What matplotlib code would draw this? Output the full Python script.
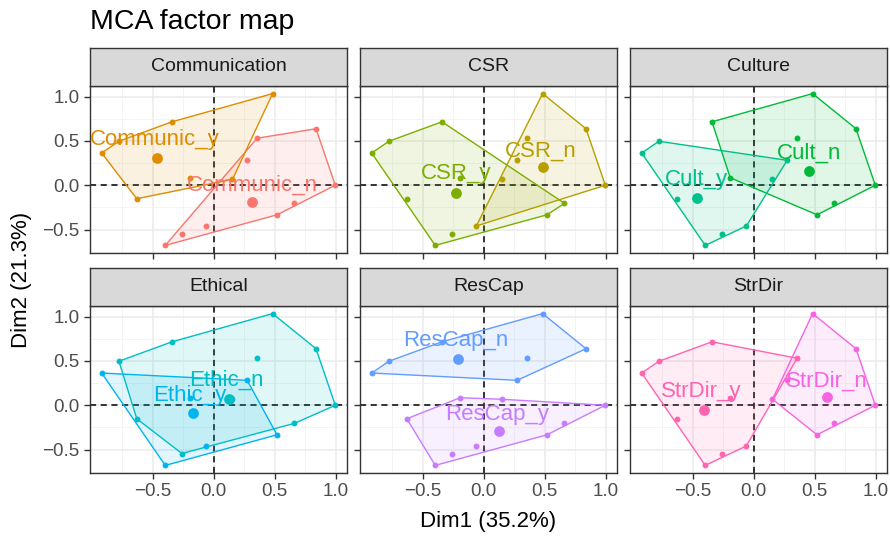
import matplotlib
matplotlib.use("Agg")
import matplotlib.pyplot as plt
import numpy as np

plt.rcParams['font.family'] = ['Liberation Sans', 'DejaVu Sans']

# individual coordinates (Dim1, Dim2)
ind_x = [0.482, -0.341, -0.775, -0.916, -0.629, -0.192, 0.154, 0.355,
         0.837, 0.995, 0.661, 0.518, 0.274, -0.060, -0.260, -0.396]
ind_y = [1.033, 0.715, 0.496, 0.363, -0.152, 0.085, 0.067, 0.530,
         0.637, 0.000, -0.204, -0.333, 0.281, -0.459, -0.544, -0.678]

panels = ["Communication", "CSR", "Culture", "Ethical", "ResCap", "StrDir"]

# category of each individual per variable ("y" or "n")
groups = {
    "Communication": "y y y y y y y n n n n n n n n n",
    "CSR":           "n y y y y y n n n n y y n n y y",
    "Culture":       "n n y y y n y n n n n n y y y y",
    "Ethical":       "n n n y n y n n n n n y y y n y",
    "ResCap":        "n n n n y y y n n y y y n y y y",
    "StrDir":        "n y y y y y n y n n n n n y y y",
}

cat_names = {
    "Communication": ("Communic_n", "Communic_y"),
    "CSR": ("CSR_n", "CSR_y"),
    "Culture": ("Cult_n", "Cult_y"),
    "Ethical": ("Ethic_n", "Ethic_y"),
    "ResCap": ("ResCap_n", "ResCap_y"),
    "StrDir": ("StrDir_n", "StrDir_y"),
}

# category coordinates
cat_x = {"Communic_n": 0.317, "Communic_y": -0.461, "CSR_n": 0.488, "CSR_y": -0.225,
         "Cult_n": 0.453, "Cult_y": -0.461, "Ethic_n": 0.127, "Ethic_y": -0.171,
         "ResCap_n": -0.211, "ResCap_y": 0.122, "StrDir_n": 0.602, "StrDir_y": -0.407}
cat_y = {"Communic_n": -0.193, "Communic_y": 0.307, "CSR_n": 0.207, "CSR_y": -0.089,
         "Cult_n": 0.159, "Cult_y": -0.148, "Ethic_n": 0.067, "Ethic_y": -0.089,
         "ResCap_n": 0.519, "ResCap_y": -0.285, "StrDir_n": 0.093, "StrDir_y": -0.056}

# label positions (repelled)
lab_x = {"Communic_n": 0.317, "Communic_y": -0.482, "CSR_n": 0.466, "CSR_y": -0.225,
         "Cult_n": 0.453, "Cult_y": -0.469, "Ethic_n": 0.10, "Ethic_y": -0.198,
         "ResCap_n": -0.225, "ResCap_y": 0.114, "StrDir_n": 0.602, "StrDir_y": -0.428}
lab_y = {"Communic_n": 0.0, "Communic_y": 0.511, "CSR_n": 0.381, "CSR_y": 0.133,
         "Cult_n": 0.363, "Cult_y": 0.067, "Ethic_n": 0.28, "Ethic_y": 0.115,
         "ResCap_n": 0.733, "ResCap_y": -0.10, "StrDir_n": 0.27, "StrDir_y": 0.159}

cat_order = ["Communic_n", "Communic_y", "CSR_n", "CSR_y", "Cult_n", "Cult_y",
             "Ethic_n", "Ethic_y", "ResCap_n", "ResCap_y", "StrDir_n", "StrDir_y"]
hue = ["#F8766D", "#DE8C00", "#B79F00", "#7CAE00", "#00BA38", "#00C08B",
       "#00BFC4", "#00B4F0", "#619CFF", "#C77CFF", "#F564E3", "#FF64B0"]
colors = dict(zip(cat_order, hue))


def hull(pts):
    pts = sorted(set(pts))
    if len(pts) < 3:
        return pts

    def cross(o, a, b):
        return (a[0] - o[0]) * (b[1] - o[1]) - (a[1] - o[1]) * (b[0] - o[0])
    lower, upper = [], []
    for p in pts:
        while len(lower) >= 2 and cross(lower[-2], lower[-1], p) <= 0:
            lower.pop()
        lower.append(p)
    for p in reversed(pts):
        while len(upper) >= 2 and cross(upper[-2], upper[-1], p) <= 0:
            upper.pop()
        upper.append(p)
    return lower[:-1] + upper[:-1]


W, H = 890, 537
fig = plt.figure(figsize=(W / 100, H / 100), dpi=100)

lefts = [90, 360, 630]
pw = 257
tops = [86, 306]
ph = 167
sh = 38

xr = max(ind_x) - min(ind_x)
yr = max(ind_y) - min(ind_y)
xlim = (min(ind_x) - 0.05 * xr, max(ind_x) + 0.05 * xr)
ylim = (min(ind_y) - 0.05 * yr, max(ind_y) + 0.05 * yr)

for i, name in enumerate(panels):
    r, c = divmod(i, 3)
    ax = fig.add_axes([lefts[c] / W, 1 - (tops[r] + ph) / H, pw / W, ph / H])
    ax.set_xlim(xlim)
    ax.set_ylim(ylim)
    ax.set_xticks([-0.5, 0.0, 0.5, 1.0])
    ax.set_yticks([-0.5, 0.0, 0.5, 1.0])
    ax.set_xticks([-0.75, -0.25, 0.25, 0.75], minor=True)
    ax.set_yticks([-0.75, -0.25, 0.25, 0.75], minor=True)
    ax.grid(True, which='major', color='#EBEBEB', lw=1.1)
    ax.grid(True, which='minor', color='#F2F2F2', lw=0.6)
    ax.set_axisbelow(True)
    for s in ax.spines.values():
        s.set_color('#333333')
        s.set_linewidth(1.0)
    ax.tick_params(which='minor', length=0)
    ax.tick_params(which='major', length=4, color='#333333', labelsize=13.5,
                   labelcolor='#4D4D4D', width=1)
    if r == 0:
        ax.tick_params(labelbottom=False)
    if c > 0:
        ax.tick_params(labelleft=False)
    ax.set_xticklabels(["\u22120.5", "0.0", "0.5", "1.0"])
    ax.set_yticklabels(["\u22120.5", "0.0", "0.5", "1.0"])

    ax.axhline(0, color='black', ls=(0, (4, 3)), lw=1.1, zorder=1.5)
    ax.axvline(0, color='black', ls=(0, (4, 3)), lw=1.1, zorder=1.5)

    g = groups[name].split()
    for lvl, cat in zip(["n", "y"], cat_names[name]):
        col = colors[cat]
        pts = [(ind_x[k], ind_y[k]) for k in range(len(g)) if g[k] == lvl]
        h = hull(pts)
        hx = [p[0] for p in h] + [h[0][0]]
        hy = [p[1] for p in h] + [h[0][1]]
        ax.fill(hx, hy, color=col, alpha=0.12, lw=0, zorder=2)
        ax.plot(hx, hy, color=col, lw=1.0, zorder=3)
        ax.scatter([p[0] for p in pts], [p[1] for p in pts], s=18, color=col, zorder=4, lw=0)
        ax.scatter([cat_x[cat]], [cat_y[cat]], s=60, color=col, zorder=5, lw=0)
        ax.text(lab_x[cat], lab_y[cat], cat, color=col, fontsize=16,
                ha='center', va='center', zorder=6)

    # strip
    sax = fig.add_axes([lefts[c] / W, 1 - tops[r] / H, pw / W, sh / H])
    sax.set_facecolor('#D9D9D9')
    sax.set_xticks([])
    sax.set_yticks([])
    for s in sax.spines.values():
        s.set_color('#333333')
        s.set_linewidth(1.0)
    sax.text(0.5, 0.5, name, ha='center', va='center', fontsize=14,
             color='#1A1A1A', transform=sax.transAxes)

fig.text(90 / W, 1 - 22 / H, "MCA factor map", fontsize=20.5, ha='left', va='center')
fig.text((90 + 886) / 2 / W, 1 - 522 / H, "Dim1 (35.2%)", fontsize=16,
         ha='center', va='center')
fig.text(22 / W, 1 - 280 / H, "Dim2 (21.3%)", fontsize=16, rotation=90,
         ha='center', va='center')

fig.savefig("out.png", dpi=100)
